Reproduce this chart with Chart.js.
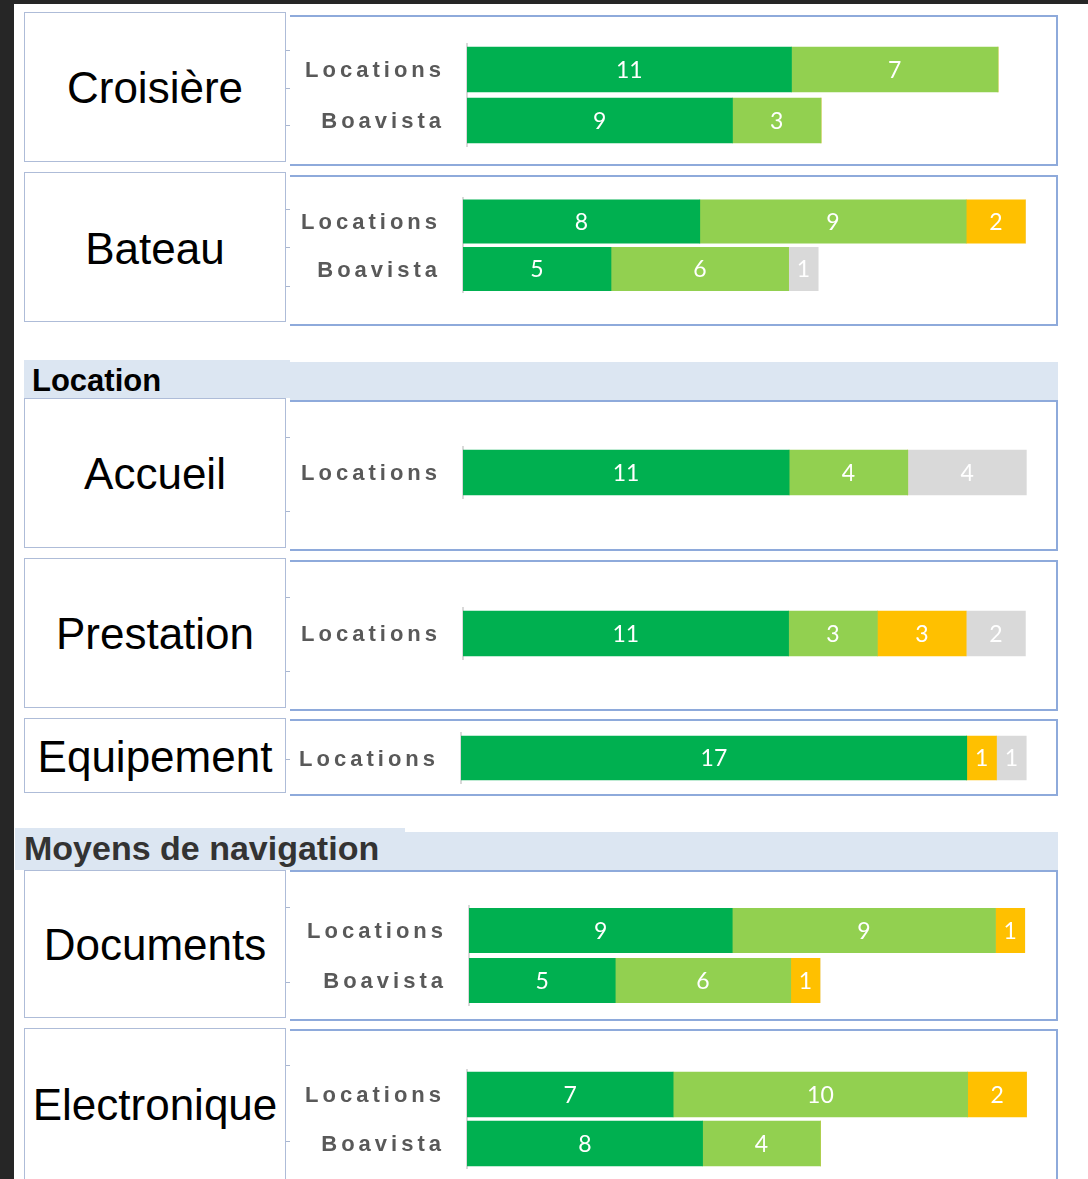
<!DOCTYPE html>
<html><head><meta charset="utf-8">
<script src="https://cdn.jsdelivr.net/npm/chart.js@4/dist/chart.umd.min.js"></script>
<style>
html,body{margin:0;padding:0;background:#fff;}
body{width:1088px;height:1179px;position:relative;overflow:hidden;}
.dark{position:absolute;background:#262626;}
.lbl{position:absolute;box-sizing:border-box;border:1px solid #aebcd8;background:#fff;}
.ltxt{position:absolute;left:24px;width:262px;font-family:'Liberation Sans',Arial,sans-serif;font-size:44px;color:#000;text-align:center;line-height:50px;height:50px;white-space:nowrap;}
.cbox{position:absolute;box-sizing:border-box;border:2px solid #8eaadb;border-left:none;pointer-events:none;z-index:5;}
.band{position:absolute;background:#dce6f2;}
.stitle{position:absolute;font-family:'Liberation Sans',Arial,sans-serif;font-weight:bold;line-height:1;white-space:nowrap;}
.tk{position:absolute;left:286px;width:4px;height:1px;background:#a9b6cf;}
canvas{position:absolute;}
</style></head><body>
<div class="dark" style="left:0;top:0;width:1088px;height:4px"></div>
<div class="dark" style="left:0;top:0;width:14px;height:1179px"></div>
<script>
// ---------- DATA ----------
const seriesNames = ['Très satisfait', 'Satisfait', 'Peu satisfait', 'Sans avis'];
const seriesColors = ['#00b050', '#92d050', '#ffc000', '#d9d9d9'];

const panelTitles = ['Croisière', 'Bateau', 'Accueil', 'Prestation', 'Equipement', 'Documents', 'Electronique'];
const sectionTitles = ['Location', 'Moyens de navigation'];

const croisiereCats = ['Locations', 'Boavista'];
const croisiereValues = [[11, 9], [7, 3], [0, 0], [0, 0]];

const bateauCats = ['Locations', 'Boavista'];
const bateauValues = [[8, 5], [9, 6], [2, 0], [0, 1]];

const accueilCats = ['Locations'];
const accueilValues = [[11], [4], [0], [4]];

const prestationCats = ['Locations'];
const prestationValues = [[11], [3], [3], [2]];

const equipementCats = ['Locations'];
const equipementValues = [[17], [0], [1], [1]];

const documentsCats = ['Locations', 'Boavista'];
const documentsValues = [[9, 5], [9, 6], [1, 1], [0, 0]];

const electroniqueCats = ['Locations', 'Boavista'];
const electroniqueValues = [[7, 8], [10, 4], [2, 0], [0, 0]];

const axisMax = 20;

// ---------- LAYOUT ----------
const panelCats = [croisiereCats, bateauCats, accueilCats, prestationCats, equipementCats, documentsCats, electroniqueCats];
const panelValues = [croisiereValues, bateauValues, accueilValues, prestationValues, equipementValues, documentsValues, electroniqueValues];
const panelLayout = [
  {box:[24,12,262,150],  textY:88,   chart:[290,15,1058,166],   start:467, unit:29.5,  centers:[69.5,120.5],   thick:45,   ticks:[50,88,125]},
  {box:[24,172,262,150], textY:249,  chart:[290,175,1058,326],  start:463, unit:29.6,  centers:[221.5,269],    thick:43.5, ticks:[209,247,286]},
  {box:[24,398,262,150], textY:474,  chart:[290,400,1058,551],  start:463, unit:29.65, centers:[472.5],        thick:45,   ticks:[437,511]},
  {box:[24,558,262,150], textY:634,  chart:[290,560,1058,711],  start:463, unit:29.6,  centers:[633.5],        thick:45,   ticks:[597,671]},
  {box:[24,718,262,75],  textY:757,  chart:[290,719,1058,796],  start:461, unit:29.75, centers:[758],          thick:44,   ticks:[759]},
  {box:[24,870,262,148], textY:945,  chart:[290,870,1058,1021], start:469, unit:29.25, centers:[930.5,980.5],  thick:44.5, ticks:[907,982]},
  {box:[24,1028,262,170],textY:1105, chart:[290,1029,1058,1200],start:467, unit:29.45, centers:[1094.5,1143.5],thick:45,  ticks:[1065,1141]}
];

function el(tag, cls, style, text) {
  const e = document.createElement(tag);
  if (cls) e.className = cls;
  Object.assign(e.style, style);
  if (text !== undefined) e.textContent = text;
  document.body.appendChild(e);
  return e;
}

// Section bands
el('div', 'band', {left:'24px', top:'360px', width:'266px', height:'38px'});
el('div', 'band', {left:'290px', top:'362px', width:'768px', height:'38px'});
el('div', 'stitle', {left:'32px', top:'365px', fontSize:'31px', color:'#000'}, sectionTitles[0]);
el('div', 'band', {left:'15px', top:'828px', width:'390px', height:'42px'});
el('div', 'band', {left:'405px', top:'832px', width:'653px', height:'38px'});
el('div', 'stitle', {left:'24px', top:'831px', fontSize:'34px', color:'#333'}, sectionTitles[1]);

const valueLabels = {
  id: 'valueLabels',
  beforeDraw(chart) { chart.ctx.letterSpacing = '4px'; },
  beforeDatasetsDraw(chart) { chart.ctx.letterSpacing = '0px'; },
  afterDatasetsDraw(chart) {
    const ctx = chart.ctx;
    ctx.save();
    ctx.letterSpacing = '0px';
    ctx.font = '23px Lato, "Open Sans", sans-serif';
    ctx.fillStyle = '#ffffff';
    ctx.textAlign = 'center';
    ctx.textBaseline = 'middle';
    chart.data.datasets.forEach((ds, i) => {
      chart.getDatasetMeta(i).data.forEach((bar, j) => {
        const v = ds.data[j];
        if (!v) return;
        const p = bar.getProps(['x', 'base', 'y'], true);
        ctx.fillText(String(v), (p.x + p.base) / 2, p.y + 1);
      });
    });
    ctx.restore();
  }
};

function build() {
  panelLayout.forEach((L, k) => {
    el('div', 'lbl', {left:L.box[0]+'px', top:L.box[1]+'px', width:L.box[2]+'px', height:L.box[3]+'px'});
    el('div', 'ltxt', {top:(L.textY - 25)+'px'}, panelTitles[k]);
    L.ticks.forEach(t => el('div', 'tk', {top:t+'px'}));
    const [x1, y1, x2, y2] = L.chart;
    el('div', 'cbox', {left:x1+'px', top:y1+'px', width:(x2-x1)+'px', height:(y2-y1)+'px'});

    const cTop = y1 + 2, cLeft = 290;
    const cH = y2 - y1 - 4;
    const cW = Math.round(L.start + axisMax * L.unit - cLeft);
    const n = L.centers.length;
    const sp = n > 1 ? (L.centers[1] - L.centers[0]) : L.thick + 6;
    const areaTop = L.centers[0] - sp / 2;
    const areaBottom = L.centers[n - 1] + sp / 2;

    const cv = document.createElement('canvas');
    cv.width = cW; cv.height = cH;
    cv.style.left = cLeft + 'px'; cv.style.top = cTop + 'px';
    cv.style.width = cW + 'px'; cv.style.height = cH + 'px';
    document.body.appendChild(cv);

    const yW = L.start - cLeft;
    new Chart(cv, {
      type: 'bar',
      data: {
        labels: panelCats[k],
        datasets: seriesNames.map((name, s) => ({
          label: name,
          data: panelValues[k][s],
          backgroundColor: seriesColors[s],
          borderWidth: 0,
          barThickness: L.thick
        }))
      },
      options: {
        indexAxis: 'y',
        responsive: false,
        animation: false,
        devicePixelRatio: 1,
        layout: {padding: {top: areaTop - cTop, bottom: cTop + cH - areaBottom, left: 0, right: 0}},
        plugins: {legend: {display: false}, tooltip: {enabled: false}},
        scales: {
          x: {stacked: true, min: 0, max: axisMax, display: false},
          y: {
            stacked: true,
            grid: {display: false, drawTicks: false},
            border: {display: true, color: '#d9d9d9', width: 2},
            ticks: {
              padding: 22,
              labelOffset: 1.5,
              color: '#595959',
              font: {family: "'Liberation Sans', Arial, sans-serif", size: 22, weight: 'bold'}
            },
            afterFit(scale) {
              scale.width = yW;
              scale.paddingTop = 0; scale.paddingBottom = 0;
              scale.paddingLeft = 0; scale.paddingRight = 0;
            }
          }
        }
      },
      plugins: [valueLabels]
    });
  });
}

const fontsReady = document.fonts ? Promise.all([
  document.fonts.load('23px Lato'),
  document.fonts.load('bold 22px "Liberation Sans"')
]).catch(() => {}) : Promise.resolve();
fontsReady.then(build, build);
</script>
</body></html>
